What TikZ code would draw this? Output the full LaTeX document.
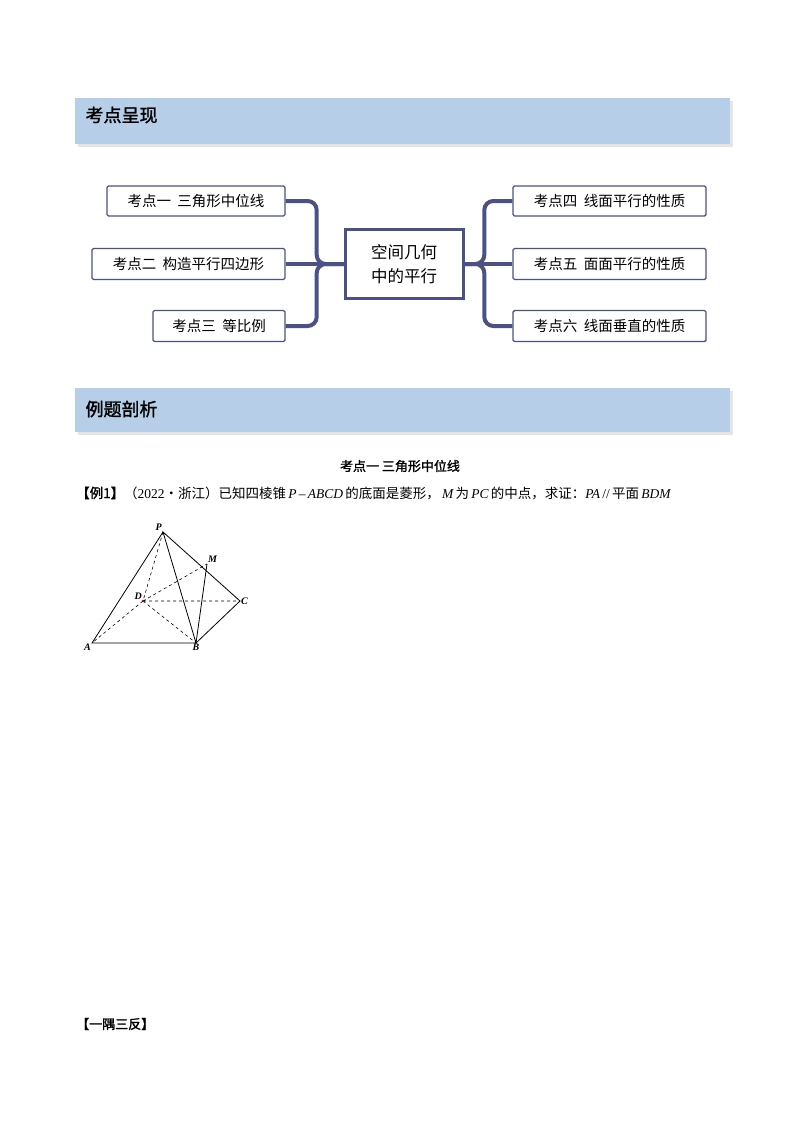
\documentclass[tikz,border=0pt]{standalone}
\usepackage{fontspec}
\setmainfont{Liberation Serif}
\newfontfamily\cjk{Noto Sans CJK SC}
\newfontfamily\cjkb{Noto Sans CJK SC}[FakeBold=1.5]
\usetikzlibrary{shadows,backgrounds}
\definecolor{barblue}{HTML}{B6CEE8}
\definecolor{mapblue}{HTML}{4B5184}
\begin{document}
\begin{tikzpicture}[x=1pt,y=-1pt,
  bar/.style={fill=barblue,draw=none,drop shadow={shadow xshift=3pt,shadow yshift=-3pt,fill=gray!40}},
  topic/.style={draw=mapblue,line width=1.4pt,fill=white,font=\cjk\fontsize{14.5}{16}\selectfont,inner sep=0pt,rounded corners=1.5pt},
  conn/.style={draw=mapblue,line width=4pt,rounded corners=9pt},
  pt/.style={font=\itshape\bfseries\fontsize{10}{11}\selectfont,inner sep=1pt}]
\useasboundingbox (0,0) rectangle (800,1132);
% header bars
\node[bar,minimum width=655pt,minimum height=46pt,anchor=north west] (bar1) at (75,98) {};
\node[anchor=west,font=\cjkb\fontsize{18}{20}\selectfont] (t1) at (82,115) {考点呈现};
\node[bar,minimum width=655pt,minimum height=44pt,anchor=north west] (bar2) at (75,388) {};
\node[anchor=west,font=\cjkb\fontsize{18}{20}\selectfont] (t2) at (82,409) {例题剖析};
% mind map
\node[draw=mapblue,line width=3pt,fill=white,minimum width=118pt,minimum height=69pt,align=center,font=\cjk\fontsize{16.5}{24}\selectfont] (c) at (404,264) {空间几何\\中的平行};
\node[topic,minimum width=178pt,minimum height=30pt] (l1) at (196,201) {考点一\ \ 三角形中位线};
\node[topic,minimum width=193pt,minimum height=31pt] (l2) at (188.5,264) {考点二\ \ 构造平行四边形};
\node[topic,minimum width=132pt,minimum height=31pt] (l3) at (219,326) {考点三\ \ 等比例};
\node[topic,minimum width=193pt,minimum height=30pt] (r1) at (609.5,201) {考点四\ \ 线面平行的性质};
\node[topic,minimum width=193pt,minimum height=31pt] (r2) at (609.5,264) {考点五\ \ 面面平行的性质};
\node[topic,minimum width=193pt,minimum height=31pt] (r3) at (609.5,326) {考点六\ \ 线面垂直的性质};
\begin{scope}[on background layer]
\draw[conn] (l1.east) -- ++(31,0) |- (c.west);
\draw[conn] (l3.east) -- ++(31,0) |- (c.west);
\draw[conn] (l2.east) -- (c.west);
\draw[conn] (r1.west) -- ++(-28,0) |- (c.east);
\draw[conn] (r3.west) -- ++(-28,0) |- (c.east);
\draw[conn] (r2.west) -- (c.east);
\end{scope}
% example
\node[font=\cjkb\fontsize{13}{15}\selectfont] (sub) at (400,466) {考点一\ 三角形中位线};
\node[anchor=west,font=\fontsize{13.5}{15}\selectfont,inner sep=0pt] (ex) at (76,493) {{\cjkb 【例1】}{\cjk（}2022{\cjk·浙江）已知四棱锥}\,{\itshape P}\,–\,{\itshape ABCD}\,{\cjk 的底面是菱形，}\,{\itshape M}\,{\cjk 为}\,{\itshape PC}\,{\cjk 的中点，求证：}{\itshape PA}\,//\,{\cjk 平面}\,{\itshape BDM}};
% pyramid
\coordinate (P) at (163,532); \coordinate (M) at (207,564);
\coordinate (D) at (143,601); \coordinate (C) at (240,601);
\coordinate (A) at (92,643); \coordinate (B) at (196,643);
\draw[line width=0.8pt] (P)--(A)--(B)--(C)--(P)--(B)--(M);
\draw[dashed,line width=0.6pt] (P)--(D)--(A) (D)--(C) (D)--(B) (D)--(M);
\fill[red!70!black] (D) circle (1.3pt);
\node[pt,anchor=south east] (lp) at (P) {P};
\node[pt,anchor=south west] (lm) at (M) {M};
\node[pt,anchor=south east] (ld) at (D) {D};
\node[pt,anchor=west] (lc) at (C) {C};
\node[pt,anchor=north east] (la) at (A) {A};
\node[pt,anchor=north] (lb) at (B) {B};
\node[anchor=west,font=\cjkb\fontsize{13}{15}\selectfont,inner sep=0pt] (yy) at (76,1024) {【一隅三反】};
\end{tikzpicture}
\end{document}
